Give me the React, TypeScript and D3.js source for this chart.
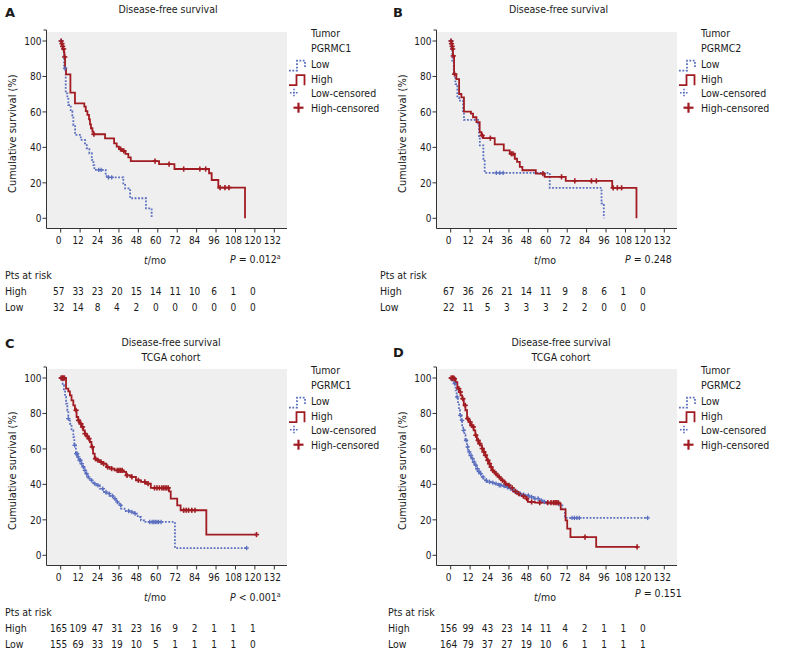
import React from 'react';
import * as d3 from 'd3';

type Step = [number, number];

const MONTH_TICKS = [0, 12, 24, 36, 48, 60, 72, 84, 96, 108, 120, 132];
const SURV_TICKS = [0, 20, 40, 60, 80, 100];
const RISK_MONTHS = [0, 12, 24, 36, 48, 60, 72, 84, 96, 108, 120];

// ---------- Panel A : PGRMC1, disease-free survival ----------
const aHighSteps: Step[] = [[0,100],[0.5,98.5],[1,97],[1.5,95.5],[2,93.5],[2.3,91],[2.7,84.6],[3.3,81.2],[6,70.9],[8.8,64.8],[14.6,63],[15.5,60.5],[16.5,58.3],[17.5,55.8],[18.1,53],[18.7,50.8],[19.6,48.9],[20.2,47.4],[27.4,45.1],[33,42.3],[34.6,40.4],[36,39.1],[37.7,38],[40,36.3],[41.8,34.4],[43.3,32.3],[60.8,30.5],[70.3,27.8],[91.7,25.4],[93.3,21.6],[97.4,17.3],[113.9,0]];
const aHighCensor = [0.3,0.8,1.2,1.8,2.5,20.5,37,39,58.3,67,76,86,89.6,98.5,101.5,104];
const aLowSteps: Step[] = [[0,100],[1,97],[1.5,94],[2.1,84.6],[3.1,70.5],[4.1,68],[4.7,63.9],[6.2,60.5],[7.2,57.3],[7.8,52.6],[8.9,47],[12.4,44.2],[15,42.3],[16.1,39.5],[17.7,36.7],[19.2,32.9],[20.2,30],[20.8,27.3],[27.8,24.4],[28.4,23.1],[38.7,19.7],[39.8,16.9],[42.9,11.3],[52.7,5.6],[56.2,0]];
const aLowCensor = [0.2,2.7,23.5,25,29.5,31.5];
const aRiskHigh = [57,33,23,20,15,14,11,10,6,1,0];
const aRiskLow = [32,14,8,4,2,0,0,0,0,0,0];

// ---------- Panel B : PGRMC2, disease-free survival ----------
const bHighSteps: Step[] = [[0,100],[0.5,98.5],[0.8,97],[1.1,95.5],[1.4,91.6],[2.1,81.3],[3.5,78.5],[5.2,70.1],[6.6,68.2],[8.2,60.2],[12.5,59],[13.8,57],[15.9,54.2],[17.9,48.6],[19,46.7],[20,45.2],[27.2,41.7],[32.8,38.3],[36.5,36.4],[39.6,33.6],[41,31.8],[42.7,29],[44.3,27.1],[52.6,25.2],[58.1,23.4],[71.1,21.1],[99.8,17.2],[114.8,0]];
const bHighCensor = [0.2,0.5,0.9,1.2,1.6,2.4,19.5,24.5,37.5,38.5,57,68.5,76.7,87,90,100.4,103,105.6];
const bLowSteps: Step[] = [[0,100],[0.5,96.3],[1,87.9],[1.9,82.2],[2.9,75.7],[4.1,68.2],[5.2,66.4],[7.6,59.8],[8.2,55.5],[16.9,52.3],[17.5,45.8],[18,41.1],[20.2,33.6],[21,25.6],[61.2,17.2],[93.2,8.4],[94.6,0]];
const bLowCensor = [0.2,28.2,30.3,32.4];
const bRiskHigh = [67,36,26,21,14,11,9,8,6,1,0];
const bRiskLow = [22,11,5,3,3,3,2,2,0,0,0];

// ---------- Panel C : PGRMC1, TCGA cohort ----------
const cHighSteps: Step[] = [[0,100],[3.3,94],[4.7,92.5],[5.7,90.2],[6.7,87.4],[7.8,84.6],[8.8,81.8],[9.8,78],[10.8,76.1],[11.8,74.2],[12.9,72.4],[13.9,70.5],[14.9,68.6],[15.9,67.1],[16.9,65.8],[18,63.9],[19,61.1],[20,57.3],[21,54.5],[22,53.6],[24.1,52.6],[26.1,51.7],[28.2,49.8],[30.2,48.9],[33.3,47.9],[38.4,47],[40.4,45.1],[43.5,44.2],[46.5,42.3],[49.6,41.4],[52.7,40.4],[55.7,38],[66.9,36.1],[68,32],[72,28.2],[74.1,25.4],[90,11.7],[121,11.7]];
const cHighCensor = [0.3,0.8,1.3,1.8,2.3,9.5,11,12.5,13.5,15,16.5,17.5,19.5,21.5,23,25,26.5,29,31.5,35,36,37,38,41,44,48,52,54,58,59.5,61,62.5,63.5,64.5,65.5,66.5,76,77.5,79,81,83,121];
const cLowSteps: Step[] = [[0,100],[0.6,98.7],[1.2,95.9],[2,93],[2.7,89.3],[3.3,85.5],[4.1,81.8],[4.7,77.1],[5.7,74.2],[6.7,70.5],[7.8,66.7],[8.4,62],[9.4,57.3],[10.4,55.5],[11.4,53.6],[12.4,51.7],[13.5,49.8],[14.5,47.9],[15.5,46.1],[16.5,44.2],[18,42.3],[20,40.4],[22,39.5],[24.1,37.6],[26.1,35.7],[28.2,34.8],[30.2,33.5],[32.2,32],[34.3,30.1],[36.3,28.2],[37.3,26.3],[39.4,25],[42.4,24.4],[45.5,23.5],[47.6,21.6],[49.6,19.7],[51.6,18.8],[70.6,4.1],[114.9,4.1]];
const cLowCensor = [0.3,4.7,8.6,9.6,10.2,10.8,11.6,12.2,13,14,15,16,17,19,21,23,26,28,30,32,33.5,35,37,42,44,46,55,56.5,57.5,58.5,59.5,60.5,62,114.9];
const cRiskHigh = [165,109,47,31,23,16,9,2,1,1,1];
const cRiskLow = [155,69,33,19,10,5,1,1,1,1,0];

// ---------- Panel D : PGRMC2, TCGA cohort ----------
const dHighSteps: Step[] = [[0,100],[2,99.5],[3,97.7],[4.1,94],[5.1,92.1],[6.1,90.2],[7.1,88.3],[8.1,84.6],[9.1,81.8],[10.1,77.1],[11.2,75.2],[12.2,73.3],[13.2,72.4],[14.2,70.5],[15.2,67.7],[16.2,64.8],[17.2,63],[18.3,62],[19.3,60.2],[20.3,58.3],[21.3,56.4],[22.3,53.6],[23.3,51.7],[24.3,49.8],[25.4,47.9],[26.4,47],[27.4,46.1],[28.4,45.1],[29.4,44.2],[30.4,43.2],[31.4,42.3],[32.5,41.7],[33.5,40.4],[34.5,39.5],[36.5,38],[38.5,36.1],[40.6,34.8],[42.6,33.8],[44.6,33.3],[46.7,32],[47.7,30.1],[52,29.7],[66.9,29.1],[68,25.9],[71,19.7],[72,15],[74,10.3],[89.9,4.7],[115.2,4.7]];
const dHighCensor = [0.3,0.8,1.3,1.8,2.3,5,6,7.5,9,10.5,12,13,14,15.5,17,18,19.5,20.5,21.5,23,24,25,26,28,30,32,34,36,38,40,42,45,47,50,55,60,62,63.5,64.5,65.5,66.5,83,115.2];
const dLowSteps: Step[] = [[0,100],[0.5,99.6],[1,97.7],[2,96.8],[3,93],[3.7,89.3],[4.5,85.5],[5.1,81.8],[5.7,78.9],[6.5,76.1],[7.1,73.3],[7.7,70.5],[8.5,67.7],[9.1,64.8],[10.1,61.1],[10.8,58.3],[11.6,56.4],[12.6,54.5],[13.6,52.6],[14.6,50.8],[15.6,48.9],[16.6,47.4],[17.6,46.1],[18.7,44.2],[20.3,42.3],[22.3,41.4],[25.4,41],[27.4,40.4],[29.4,39.5],[31.4,39.1],[33.5,38.5],[35.5,37.6],[37.5,36.7],[39.6,35.7],[41.6,34.8],[43.6,34.2],[46.7,33.8],[48.7,32.9],[51.7,32],[54.8,31],[56.8,30.1],[58.8,29.1],[66.9,28.2],[69,26.3],[70.6,21.1],[121.7,21.1]];
const dLowCensor = [0.5,2.5,4,6,7,8,9.5,10.5,11.5,12.5,13.5,14.5,15.5,16.5,17.5,18.5,20,22,24,26,28,30,31,33,35,37,39,41,43,45,48,50,52,54,56,58,75,76.5,78,79.5,121.7];
const dRiskHigh = [156,99,43,23,14,11,4,2,1,1,0];
const dRiskLow = [164,79,37,27,19,10,6,1,1,1,1];

const FONT = '"DejaVu Sans Condensed", "Liberation Sans", Arial, sans-serif';
const RED = '#a11c22';
const BLUE = '#5b6fbf';
const TEXT = '#1a1a1a';
const AXIS = '#333333';
const FS = 10.5;
const FS_NUM = 10;

function valueAt(steps: Step[], t: number): number {
  let v = steps[0][1];
  for (const [tt, s] of steps) {
    if (tt <= t) v = s;
    else break;
  }
  return v;
}

type PanelProps = {
  ox: number;
  oy: number;
  letter: string;
  letterX: number;
  letterY: number;
  titles: string[];
  titleX: number;
  titleY: number;
  gene: string;
  high: Step[];
  highCensor: number[];
  low: Step[];
  lowCensor: number[];
  riskHigh: number[];
  riskLow: number[];
  pMain: string;
  pSup: string;
  pX: number;
  pY: number;
  riskX: number;
};

function Plus({ x, y, r, color, width, dash }: { x: number; y: number; r: number; color: string; width: number; dash?: string }) {
  return (
    <g stroke={color} strokeWidth={width} strokeDasharray={dash}>
      <line x1={x - r} x2={x + r} y1={y} y2={y} />
      <line x1={x} x2={x} y1={y - r} y2={y + r} />
    </g>
  );
}

function Panel(p: PanelProps) {
  const axisX = 46.5;
  const axisTop = 30;
  const axisY = 228.5;
  const axisRight = 287;
  const x = d3.scaleLinear().domain([0, 132]).range([60.7, 274.3]);
  const y = d3.scaleLinear().domain([0, 100]).range([218.3, 41]);
  const line = d3
    .line<Step>()
    .x((d) => x(d[0]))
    .y((d) => y(d[1]))
    .curve(d3.curveStepAfter);

  const legendRows = [36.7, 52.3, 67.7, 82.7, 96.7, 111.7];
  const lx = 311;

  return (
    <g transform={`translate(${p.ox},${p.oy})`} fontFamily={FONT} fill={TEXT}>
      <text x={p.letterX} y={p.letterY} fontSize={13} fontWeight="bold" fontFamily='"DejaVu Sans", Verdana, sans-serif'>
        {p.letter}
      </text>
      {p.titles.map((t, i) => (
        <text key={i} x={p.titleX} y={p.titleY + i * 15} fontSize={FS} textAnchor="middle">
          {t}
        </text>
      ))}

      {/* plot background */}
      <rect x={axisX + 0.5} y={32} width={axisRight - axisX - 0.5} height={axisY - 32} fill="#efefef" />

      {/* y axis */}
      <line x1={axisX} x2={axisX} y1={axisTop} y2={axisY} stroke={AXIS} strokeWidth={1} />
      <line x1={axisX - 3} x2={axisX} y1={axisTop} y2={axisTop} stroke={AXIS} strokeWidth={1} />
      {SURV_TICKS.map((v) => (
        <g key={v}>
          <line x1={axisX - 4} x2={axisX} y1={y(v)} y2={y(v)} stroke={AXIS} strokeWidth={1} />
          <text x={axisX - 5} y={y(v) + 3.7} fontSize={FS_NUM} textAnchor="end">
            {v}
          </text>
        </g>
      ))}
      <text
        transform={`translate(15.5,${(y(0) + y(100)) / 2 + 4}) rotate(-90)`}
        fontSize={11}
        textAnchor="middle"
      >
        Cumulative survival (%)
      </text>

      {/* x axis */}
      <line x1={axisX} x2={axisRight} y1={axisY} y2={axisY} stroke={AXIS} strokeWidth={1} />
      {MONTH_TICKS.map((m) => (
        <g key={m}>
          <line x1={x(m)} x2={x(m)} y1={axisY} y2={axisY + 4} stroke={AXIS} strokeWidth={1} />
          <text x={x(m) - 2} y={axisY + 15} fontSize={FS_NUM} textAnchor="middle">
            {m}
          </text>
        </g>
      ))}
      <text x={155} y={263.5} fontSize={FS} textAnchor="middle">
        <tspan fontStyle="italic">t</tspan>/mo
      </text>
      <text x={p.pX} y={p.pY} fontSize={FS}>
        <tspan fontStyle="italic">P</tspan>
        {` ${p.pMain}`}
        {p.pSup ? (
          <tspan dy={-4} fontSize={7}>
            {p.pSup}
          </tspan>
        ) : null}
      </text>

      {/* curves */}
      <path d={line(p.low) || ''} fill="none" stroke={BLUE} strokeWidth={1.8} strokeDasharray="1.8 1.6" />
      <path d={line(p.high) || ''} fill="none" stroke={RED} strokeWidth={1.8} />
      {p.lowCensor.map((t, i) => (
        <Plus key={`l${i}`} x={x(t)} y={y(valueAt(p.low, t))} r={2.2} color={BLUE} width={1.3} />
      ))}
      {p.highCensor.map((t, i) => (
        <Plus key={`h${i}`} x={x(t)} y={y(valueAt(p.high, t))} r={2.6} color={RED} width={1.6} />
      ))}

      {/* legend */}
      <text x={lx} y={legendRows[0]} fontSize={FS}>Tumor</text>
      <text x={lx} y={legendRows[1]} fontSize={FS}>{p.gene}</text>
      <path
        d={`M289,${legendRows[2] + 3} H297 V${legendRows[2] - 7} H305 V${legendRows[2]}`}
        fill="none"
        stroke={BLUE}
        strokeWidth={1.8}
        strokeDasharray="1.8 1.6"
      />
      <text x={lx} y={legendRows[2]} fontSize={FS}>Low</text>
      <path
        d={`M289,${legendRows[3] + 2.5} H296.5 V${legendRows[3] - 7.5} H304.5 V${legendRows[3] + 2.5}`}
        fill="none"
        stroke={RED}
        strokeWidth={1.8}
      />
      <text x={lx} y={legendRows[3]} fontSize={FS}>High</text>
      <Plus x={294} y={legendRows[4] - 4} r={4} color={BLUE} width={1.6} dash="1.6 1.4" />
      <text x={lx} y={legendRows[4]} fontSize={FS}>Low-censored</text>
      <Plus x={298.5} y={legendRows[5] - 4} r={5} color={RED} width={2.2} />
      <text x={lx} y={legendRows[5]} fontSize={FS}>High-censored</text>

      {/* numbers at risk */}
      <text x={p.riskX} y={279} fontSize={FS}>Pts at risk</text>
      <text x={p.riskX} y={295} fontSize={FS}>High</text>
      <text x={p.riskX} y={311} fontSize={FS}>Low</text>
      {RISK_MONTHS.map((m, i) => (
        <g key={m}>
          <text x={x(m) - 2} y={295} fontSize={FS_NUM} textAnchor="middle">
            {p.riskHigh[i]}
          </text>
          <text x={x(m) - 2} y={311} fontSize={FS_NUM} textAnchor="middle">
            {p.riskLow[i]}
          </text>
        </g>
      ))}
    </g>
  );
}

export default function App() {
  return (
    <svg
      width={786}
      height={658}
      viewBox="0 0 786 658"
      style={{ position: 'absolute', left: 0, top: 0, background: '#ffffff' }}
    >
      <rect x={0} y={0} width={786} height={658} fill="#ffffff" />
      <Panel
        ox={0}
        oy={0}
        letter="A"
        letterX={5}
        letterY={16.7}
        titles={['Disease-free survival']}
        titleX={168}
        titleY={12.5}
        gene="PGRMC1"
        high={aHighSteps}
        highCensor={aHighCensor}
        low={aLowSteps}
        lowCensor={aLowCensor}
        riskHigh={aRiskHigh}
        riskLow={aRiskLow}
        pMain="= 0.012"
        pSup="a"
        pX={230}
        pY={263.3}
        riskX={5}
      />
      <Panel
        ox={390}
        oy={0}
        letter="B"
        letterX={3}
        letterY={16.7}
        titles={['Disease-free survival']}
        titleX={168.5}
        titleY={12.5}
        gene="PGRMC2"
        high={bHighSteps}
        highCensor={bHighCensor}
        low={bLowSteps}
        lowCensor={bLowCensor}
        riskHigh={bRiskHigh}
        riskLow={bRiskLow}
        pMain="= 0.248"
        pSup=""
        pX={235}
        pY={263.3}
        riskX={-10}
      />
      <Panel
        ox={0}
        oy={337}
        letter="C"
        letterX={5}
        letterY={11}
        titles={['Disease-free survival', 'TCGA cohort']}
        titleX={171}
        titleY={9}
        gene="PGRMC1"
        high={cHighSteps}
        highCensor={cHighCensor}
        low={cLowSteps}
        lowCensor={cLowCensor}
        riskHigh={cRiskHigh}
        riskLow={cRiskLow}
        pMain="< 0.001"
        pSup="a"
        pX={230}
        pY={263.7}
        riskX={5}
      />
      <Panel
        ox={390}
        oy={337}
        letter="D"
        letterX={3}
        letterY={20}
        titles={['Disease-free survival', 'TCGA cohort']}
        titleX={171}
        titleY={9}
        gene="PGRMC2"
        high={dHighSteps}
        highCensor={dHighCensor}
        low={dLowSteps}
        lowCensor={dLowCensor}
        riskHigh={dRiskHigh}
        riskLow={dRiskLow}
        pMain="= 0.151"
        pSup=""
        pX={245}
        pY={259.7}
        riskX={-2}
      />
    </svg>
  );
}
